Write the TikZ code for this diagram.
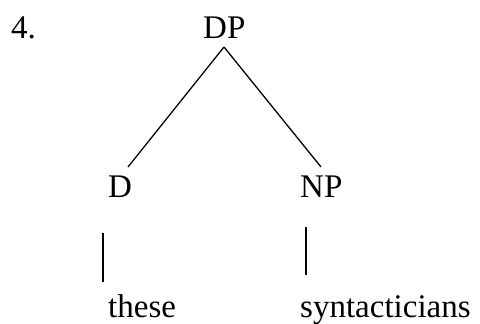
\documentclass[tikz,border=0pt]{standalone}
\usepackage{fontspec}
\setmainfont{Liberation Serif}
\begin{document}
\begin{tikzpicture}[x=1pt,y=-1pt,
  lbl/.style={inner sep=0pt,anchor=base west,font=\fontsize{33}{40}\selectfont},
  branch/.style={line width=1.3pt,line cap=butt}]
\useasboundingbox (0,0) rectangle (480,324);
\node[lbl] (num) at (11,38) {4.};
\node[lbl] (dp) at (203,38) {DP};
\node[lbl] (d) at (108,197) {D};
\node[lbl] (np) at (300,197) {NP};
\node[lbl] (these) at (108,317) {these};
\node[lbl] (synt) at (300,317) {syntacticians};
\coordinate (apex) at (224,47);
\coordinate (dtop) at (128,167);
\coordinate (nptop) at (321,167);
\coordinate (v1a) at (103,233);
\coordinate (v1b) at (103,282);
\coordinate (v2a) at (306,227);
\coordinate (v2b) at (306,275);
\draw[branch] (apex) -- (dtop);
\draw[branch] (apex) -- (nptop);
\draw[branch] (v1a) -- (v1b);
\draw[branch] (v2a) -- (v2b);
\end{tikzpicture}
\end{document}
